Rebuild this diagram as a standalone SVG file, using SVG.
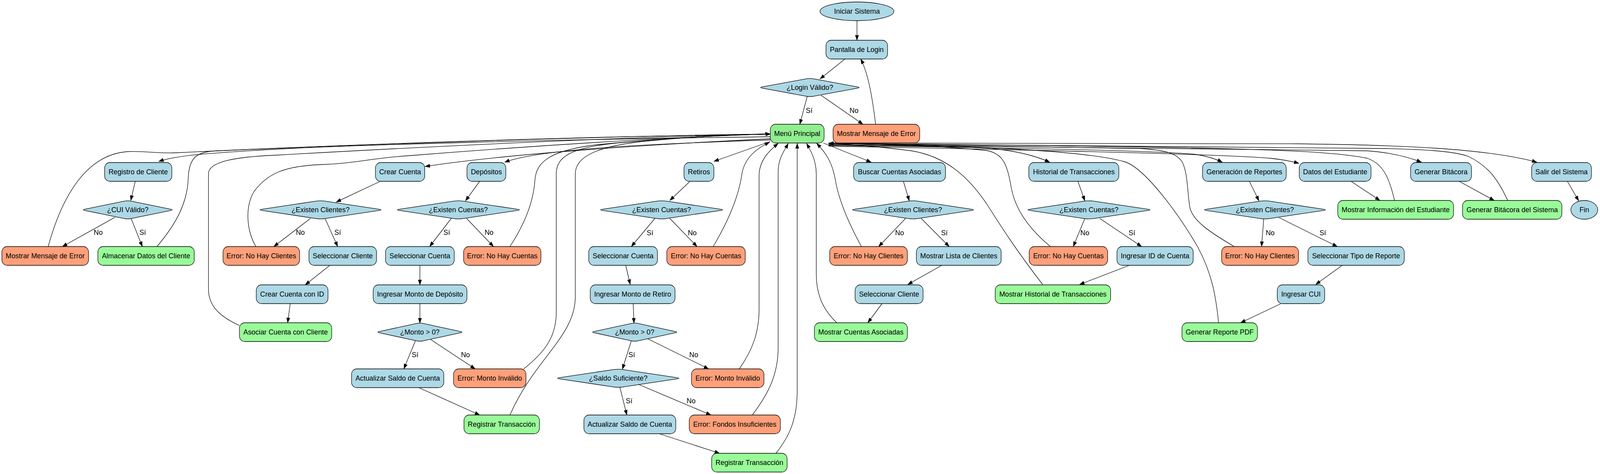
<svg xmlns="http://www.w3.org/2000/svg" width="4283" height="1213" viewBox="0 0 4283 1213">
<style>
.n rect,.n path,.n ellipse{stroke:#000;stroke-width:1.3}
.b{fill:#ADD8E6}.g{fill:#98FB98}.m{fill:#90EE90}.o{fill:#FFA07A}
text{font-family:"Liberation Sans",Arial,sans-serif;font-size:18.67px;text-anchor:middle;fill:#000}
#edges path{fill:none;stroke:#000;stroke-width:1.3;marker-end:url(#arr)}
</style>
<defs>
<marker id="arr" markerUnits="userSpaceOnUse" markerWidth="14" markerHeight="10" refX="13" refY="5" orient="auto"><path d="M0,0 L14,5 L0,10 z" fill="#000"/></marker>
</defs>
<rect width="4283" height="1213" fill="#fff"/>
<g id="diagram" transform="scale(0.95634,1)">
<g id="edges">
<path d="M2294,53 L2294,103"/>
<path d="M2262,151 L2195,202"/>
<path d="M2161,246 L2141,318"/>
<path d="M2198,244 L2310,318"/>
<path d="M2344,318 C2335,250 2325,190 2304,151"/>
<path d="M362,464 L350,513"/>
<path d="M308,556 L167,631"/>
<path d="M351,559 L381,631"/>
<path d="M129,631 C165,505 230,395 342,388 C385,386 420,393 470,391 C800,376 1500,350 2062,343"/>
<path d="M420,631 C470,575 502,520 504,455 C506,400 530,388 580,386 C900,372 1500,350 2062,343"/>
<path d="M641,833 C600,815 558,790 558,740 L558,445 C558,415 620,402 740,397 C1000,383 1600,352 2062,343"/>
<path d="M685,631 C660,590 655,530 680,490 C715,445 760,424 865,421 C950,418 1000,404 1100,398 C1400,375 1800,350 2062,343"/>
<path d="M1365,631 C1400,580 1428,520 1432,460 C1436,415 1470,385 1600,370 C1800,352 1950,345 2062,343"/>
<path d="M1402,944 C1460,900 1489,860 1489,800 L1489,445 C1489,400 1530,378 1650,366 C1850,350 1950,345 2062,343"/>
<path d="M1365,1062 C1430,920 1540,860 1540,760 L1540,445 C1540,400 1600,375 1720,362 C1870,348 1960,345 2062,343"/>
<path d="M2062,350 C1500,356 900,372 700,384 C580,391 480,396 425,413"/>
<path d="M2062,355 C1700,372 1350,395 1138,426"/>
<path d="M2062,358 C1750,368 1450,380 1351,415"/>
<path d="M2062,362 L1911,413"/>
<path d="M1018,464 L900,517"/>
<path d="M831,559 L733,631"/>
<path d="M870,559 L904,631"/>
<path d="M883,679 L817,729"/>
<path d="M777,776 L770,826"/>
<path d="M1284,464 L1246,514"/>
<path d="M1208,559 L1150,631"/>
<path d="M1249,559 L1321,631"/>
<path d="M1124,679 L1124,729"/>
<path d="M1124,776 L1124,827"/>
<path d="M1112,872 L1081,944"/>
<path d="M1153,869 L1272,944"/>
<path d="M1121,992 L1284,1062"/>
<path d="M1846,465 L1793,513"/>
<path d="M1753,559 L1690,631"/>
<path d="M1793,559 L1866,631"/>
<path d="M1675,679 L1687,728"/>
<path d="M1695,777 L1697,827"/>
<path d="M1690,872 L1666,945"/>
<path d="M1734,867 L1897,944"/>
<path d="M1659,990 L1678,1062"/>
<path d="M1700,980 L1903,1062"/>
<path d="M1765,1110 L1926,1160"/>
<path d="M1909,631 C1950,565 1978,500 1986,445 C1994,400 2030,378 2060,364"/>
<path d="M1979,944 C2015,895 2032,850 2032,790 L2032,450 C2032,410 2060,385 2083,367"/>
<path d="M2014,1062 C2055,1010 2083,960 2083,890 L2083,440 C2083,405 2100,385 2110,367"/>
<path d="M2077,1160 C2115,1115 2134,1070 2134,1000 L2134,367"/>
<path d="M2240,826 C2200,790 2185,750 2185,700 L2185,445 C2185,410 2170,385 2159,367"/>
<path d="M2306,631 C2268,565 2245,510 2236,460 C2228,415 2210,390 2186,367"/>
<path d="M2204,366 L2332,415"/>
<path d="M2418,463 L2434,514"/>
<path d="M2424,559 L2352,631"/>
<path d="M2466,559 L2541,631"/>
<path d="M2521,679 L2430,728"/>
<path d="M2361,777 L2323,826"/>
<path d="M2218,370 C2400,372 2600,375 2665,381 C2730,388 2775,400 2810,415"/>
<path d="M2885,463 L2904,514"/>
<path d="M2904,559 L2873,631"/>
<path d="M2944,559 L3056,631"/>
<path d="M3023,679 L2890,728"/>
<path d="M2812,631 C2760,590 2718,540 2707,480 C2696,420 2685,392 2640,385 C2500,372 2320,368 2218,367"/>
<path d="M2791,728 C2720,640 2680,580 2640,520 C2590,450 2530,400 2440,386 C2350,375 2270,369 2218,367"/>
<path d="M2218,372 C2700,378 3100,385 3200,395 C3232,400 3255,407 3272,415"/>
<path d="M3344,463 L3370,514"/>
<path d="M3383,559 L3377,631"/>
<path d="M3424,557 L3580,631"/>
<path d="M3593,679 L3522,728"/>
<path d="M3429,777 L3321,826"/>
<path d="M3304,631 C3240,595 3192,565 3185,530 C3178,490 3180,445 3165,415 C3150,392 3120,384 3050,380 C2700,372 2400,368 2218,367"/>
<path d="M3262,826 C3255,760 3245,700 3205,630 C3150,540 3060,425 3007,413 C2900,385 2600,372 2218,367"/>
<path d="M2218,374 C2900,386 3300,396 3400,405 C3430,408 3458,413 3477,418"/>
<path d="M3615,463 L3694,513"/>
<path d="M2218,370 C2900,378 3500,380 3660,386 C3720,390 3770,402 3805,415"/>
<path d="M3904,463 L4000,513"/>
<path d="M2218,366 C2800,368 3300,366 3473,368 C3750,371 3980,380 4114,415"/>
<path d="M4195,463 L4226,514"/>
<path d="M3733,513 C3720,460 3705,420 3660,405 C3550,383 3300,376 2218,367"/>
<path d="M4036,513 C4010,460 3985,425 3930,400 C3890,386 3800,382 3700,380 C3000,372 2500,368 2218,367"/>
</g>
<g id="edge-labels">
<text x="2166" y="289.5">Sí</text><text x="2286" y="289.5">No</text>
<text x="263" y="601.5">No</text><text x="382" y="601.5">Sí</text>
<text x="804" y="601.5">No</text><text x="904" y="601.5">Sí</text>
<text x="1196" y="601.5">Sí</text><text x="1309" y="601.5">No</text>
<text x="1740" y="602.5">Sí</text><text x="1853" y="602.5">No</text>
<text x="2408" y="602.5">No</text><text x="2528" y="602.5">Sí</text>
<text x="2904" y="602.5">No</text><text x="3030" y="602.5">Sí</text>
<text x="3400" y="602.5">No</text><text x="3541" y="602.5">Sí</text>
<text x="1111" y="914.5">Sí</text><text x="1246" y="914.5">No</text>
<text x="1691" y="914.5">Sí</text><text x="1857" y="914.5">No</text>
<text x="1684" y="1032.5">Sí</text><text x="1850" y="1032.5">No</text>
</g>
<g id="n_iniciar" class="n"><ellipse class="b" cx="2294" cy="29" rx="99" ry="24"/><text x="2294" y="35.5">Iniciar Sistema</text></g>
<g id="n_login" class="n"><rect class="b" x="2211" y="103" width="165" height="48" rx="14"/><text x="2293.5" y="133.5">Pantalla de Login</text></g>
<g id="n_loginvalido" class="n"><path class="b" d="M2040.8,222.3 l117.6,-20.64 q9.6,-1.68 19.2,0 l117.6,20.64 q9.6,1.68 0,3.36 l-117.6,20.64 q-9.6,1.68 -19.2,0 l-117.6,-20.64 q-9.6,-1.68 0,-3.36z"/><text x="2168" y="230.5">¿Login Válido?</text></g>
<g id="n_menu" class="n"><rect class="m" x="2062" y="318" width="144" height="48" rx="14"/><text x="2134" y="348.5">Menú Principal</text></g>
<g id="n_errlogin" class="n"><rect class="o" x="2230" y="318" width="232" height="48" rx="14"/><text x="2346" y="348.5">Mostrar Mensaje de Error</text></g>
<g id="n_registro" class="n"><rect class="b" x="280" y="416" width="180" height="48" rx="14"/><text x="370" y="446.5">Registro de Cliente</text></g>
<g id="n_crear" class="n"><rect class="b" x="1005" y="416" width="132" height="48" rx="14"/><text x="1071" y="446.5">Crear Cuenta</text></g>
<g id="n_depositos" class="n"><rect class="b" x="1250" y="416" width="104" height="48" rx="14"/><text x="1302" y="446.5">Depósitos</text></g>
<g id="n_retiros" class="n"><rect class="b" x="1831" y="416" width="80" height="48" rx="14"/><text x="1871" y="446.5">Retiros</text></g>
<g id="n_buscar" class="n"><rect class="b" x="2285" y="416" width="246" height="48" rx="14"/><text x="2408" y="446.5">Buscar Cuentas Asociadas</text></g>
<g id="n_historial" class="n"><rect class="b" x="2754" y="416" width="241" height="48" rx="14"/><text x="2874.5" y="446.5">Historial de Transacciones</text></g>
<g id="n_generacion" class="n"><rect class="b" x="3219" y="416" width="224" height="48" rx="14"/><text x="3331" y="446.5">Generación de Reportes</text></g>
<g id="n_datos" class="n"><rect class="b" x="3478" y="416" width="192" height="48" rx="14"/><text x="3574" y="446.5">Datos del Estudiante</text></g>
<g id="n_bitacora" class="n"><rect class="b" x="3776" y="416" width="163" height="48" rx="14"/><text x="3857.5" y="446.5">Generar Bitácora</text></g>
<g id="n_salir" class="n"><rect class="b" x="4100" y="416" width="160" height="48" rx="14"/><text x="4180" y="446.5">Salir del Sistema</text></g>
<g id="n_cui" class="n"><path class="b" d="M227.3,535.3 l106,-20.64 q8.6,-1.68 17.3,0 l106,20.64 q8.6,1.68 0,3.36 l-106,20.64 q-8.6,1.68 -17.3,0 l-106,-20.64 q-8.6,-1.68 0,-3.36z"/><text x="342" y="543.5">¿CUI Válido?</text></g>
<g id="n_excli1" class="n"><path class="b" d="M701.9,535.3 l144.4,-20.64 q11.8,-1.68 23.5,0 l144.4,20.64 q11.8,1.68 0,3.36 l-144.4,20.64 q-11.8,1.68 -23.5,0 l-144.4,-20.64 q-11.8,-1.68 0,-3.36z"/><text x="858" y="543.5">¿Existen Clientes?</text></g>
<g id="n_excue1" class="n"><path class="b" d="M1069.5,535.3 l145.7,-20.64 q11.9,-1.68 23.7,0 l145.7,20.64 q11.9,1.68 0,3.36 l-145.7,20.64 q-11.9,1.68 -23.7,0 l-145.7,-20.64 q-11.9,-1.68 0,-3.36z"/><text x="1227" y="543.5">¿Existen Cuentas?</text></g>
<g id="n_excue2" class="n"><path class="b" d="M1613.5,535.3 l145.7,-20.64 q11.9,-1.68 23.7,0 l145.7,20.64 q11.9,1.68 0,3.36 l-145.7,20.64 q-11.9,1.68 -23.7,0 l-145.7,-20.64 q-11.9,-1.68 0,-3.36z"/><text x="1771" y="543.5">¿Existen Cuentas?</text></g>
<g id="n_excli2" class="n"><path class="b" d="M2287.9,535.3 l144.4,-20.64 q11.8,-1.68 23.5,0 l144.4,20.64 q11.8,1.68 0,3.36 l-144.4,20.64 q-11.8,1.68 -23.5,0 l-144.4,-20.64 q-11.8,-1.68 0,-3.36z"/><text x="2444" y="543.5">¿Existen Clientes?</text></g>
<g id="n_excue3" class="n"><path class="b" d="M2757.5,535.3 l145.7,-20.64 q11.9,-1.68 23.7,0 l145.7,20.64 q11.9,1.68 0,3.36 l-145.7,20.64 q-11.9,1.68 -23.7,0 l-145.7,-20.64 q-11.9,-1.68 0,-3.36z"/><text x="2915" y="543.5">¿Existen Cuentas?</text></g>
<g id="n_excli3" class="n"><path class="b" d="M3229.9,535.3 l144.4,-20.64 q11.8,-1.68 23.5,0 l144.4,20.64 q11.8,1.68 0,3.36 l-144.4,20.64 q-11.8,1.68 -23.5,0 l-144.4,-20.64 q-11.8,-1.68 0,-3.36z"/><text x="3386" y="543.5">¿Existen Clientes?</text></g>
<g id="n_infoest" class="n"><rect class="g" x="3581" y="513" width="310" height="48" rx="14"/><text x="3736" y="543.5">Mostrar Información del Estudiante</text></g>
<g id="n_bitsis" class="n"><rect class="g" x="3915" y="513" width="266" height="48" rx="14"/><text x="4048" y="543.5">Generar Bitácora del Sistema</text></g>
<g id="n_fin" class="n"><ellipse class="b" cx="4241" cy="537" rx="36" ry="24"/><text x="4241" y="543.5">Fin</text></g>
<g id="n_errcui" class="n"><rect class="o" x="5" y="631" width="232" height="48" rx="14"/><text x="121" y="661.5">Mostrar Mensaje de Error</text></g>
<g id="n_almacenar" class="n"><rect class="g" x="262" y="631" width="258" height="48" rx="14"/><text x="391" y="661.5">Almacenar Datos del Cliente</text></g>
<g id="n_errcli1" class="n"><rect class="o" x="597" y="631" width="205" height="48" rx="14"/><text x="699.5" y="661.5">Error: No Hay Clientes</text></g>
<g id="n_selcli1" class="n"><rect class="b" x="827" y="631" width="181" height="48" rx="14"/><text x="917.5" y="661.5">Seleccionar Cliente</text></g>
<g id="n_selcue1" class="n"><rect class="b" x="1032" y="631" width="184" height="48" rx="14"/><text x="1124" y="661.5">Seleccionar Cuenta</text></g>
<g id="n_errcue1" class="n"><rect class="o" x="1241" y="631" width="207" height="48" rx="14"/><text x="1344.5" y="661.5">Error: No Hay Cuentas</text></g>
<g id="n_selcue2" class="n"><rect class="b" x="1576" y="631" width="184" height="48" rx="14"/><text x="1668" y="661.5">Seleccionar Cuenta</text></g>
<g id="n_errcue2" class="n"><rect class="o" x="1785" y="631" width="210" height="48" rx="14"/><text x="1890" y="661.5">Error: No Hay Cuentas</text></g>
<g id="n_errcli2" class="n"><rect class="o" x="2221" y="631" width="208" height="48" rx="14"/><text x="2325" y="661.5">Error: No Hay Clientes</text></g>
<g id="n_lista" class="n"><rect class="b" x="2453" y="631" width="227" height="48" rx="14"/><text x="2566.5" y="661.5">Mostrar Lista de Clientes</text></g>
<g id="n_errcue3" class="n"><rect class="o" x="2755" y="631" width="210" height="48" rx="14"/><text x="2860" y="661.5">Error: No Hay Cuentas</text></g>
<g id="n_ingid" class="n"><rect class="b" x="2990" y="631" width="204" height="48" rx="14"/><text x="3092" y="661.5">Ingresar ID de Cuenta</text></g>
<g id="n_errcli3" class="n"><rect class="o" x="3270" y="631" width="206" height="48" rx="14"/><text x="3373" y="661.5">Error: No Hay Clientes</text></g>
<g id="n_tipo" class="n"><rect class="b" x="3501" y="631" width="258" height="48" rx="14"/><text x="3630" y="661.5">Seleccionar Tipo de Reporte</text></g>
<g id="n_crearid" class="n"><rect class="b" x="686" y="729" width="192" height="48" rx="14"/><text x="782" y="759.5">Crear Cuenta con ID</text></g>
<g id="n_montodep" class="n"><rect class="b" x="999" y="729" width="251" height="48" rx="14"/><text x="1124.5" y="759.5">Ingresar Monto de Depósito</text></g>
<g id="n_montoret" class="n"><rect class="b" x="1580" y="729" width="227" height="48" rx="14"/><text x="1693.5" y="759.5">Ingresar Monto de Retiro</text></g>
<g id="n_selcli2" class="n"><rect class="b" x="2289" y="729" width="182" height="48" rx="14"/><text x="2380" y="759.5">Seleccionar Cliente</text></g>
<g id="n_histtrans" class="n"><rect class="g" x="2664" y="729" width="309" height="48" rx="14"/><text x="2818.5" y="759.5">Mostrar Historial de Transacciones</text></g>
<g id="n_ingcui" class="n"><rect class="b" x="3419" y="729" width="127" height="48" rx="14"/><text x="3482.5" y="759.5">Ingresar CUI</text></g>
<g id="n_asociar" class="n"><rect class="g" x="641" y="826" width="247" height="48" rx="14"/><text x="764.5" y="856.5">Asociar Cuenta con Cliente</text></g>
<g id="n_monto1" class="n"><path class="b" d="M1015.6,848.3 l100.3,-20.64 q8.2,-1.68 16.3,0 l100.3,20.64 q8.2,1.68 0,3.36 l-100.3,20.64 q-8.2,1.68 -16.3,0 l-100.3,-20.64 q-8.2,-1.68 0,-3.36z"/><text x="1124" y="856.5">¿Monto &gt; 0?</text></g>
<g id="n_monto2" class="n"><path class="b" d="M1590.6,848.3 l100.3,-20.64 q8.2,-1.68 16.3,0 l100.3,20.64 q8.2,1.68 0,3.36 l-100.3,20.64 q-8.2,1.68 -16.3,0 l-100.3,-20.64 q-8.2,-1.68 0,-3.36z"/><text x="1699" y="856.5">¿Monto &gt; 0?</text></g>
<g id="n_cuentasasoc" class="n"><rect class="g" x="2180" y="826" width="249" height="48" rx="14"/><text x="2304.5" y="856.5">Mostrar Cuentas Asociadas</text></g>
<g id="n_pdf" class="n"><rect class="g" x="3164" y="826" width="202" height="48" rx="14"/><text x="3265" y="856.5">Generar Reporte PDF</text></g>
<g id="n_act1" class="n"><rect class="b" x="941" y="944" width="247" height="48" rx="14"/><text x="1064.5" y="974.5">Actualizar Saldo de Cuenta</text></g>
<g id="n_errmonto1" class="n"><rect class="o" x="1214" y="944" width="194" height="48" rx="14"/><text x="1311" y="974.5">Error: Monto Inválido</text></g>
<g id="n_saldo" class="n"><path class="b" d="M1498.4,966.3 l144.8,-20.64 q11.8,-1.68 23.6,0 l144.8,20.64 q11.8,1.68 0,3.36 l-144.8,20.64 q-11.8,1.68 -23.6,0 l-144.8,-20.64 q-11.8,-1.68 0,-3.36z"/><text x="1655" y="974.5">¿Saldo Suficiente?</text></g>
<g id="n_errmonto2" class="n"><rect class="o" x="1851" y="944" width="194" height="48" rx="14"/><text x="1948" y="974.5">Error: Monto Inválido</text></g>
<g id="n_reg1" class="n"><rect class="g" x="1242" y="1062" width="202" height="48" rx="14"/><text x="1343" y="1092.5">Registrar Transacción</text></g>
<g id="n_act2" class="n"><rect class="b" x="1563" y="1062" width="246" height="48" rx="14"/><text x="1686" y="1092.5">Actualizar Saldo de Cuenta</text></g>
<g id="n_fondos" class="n"><rect class="o" x="1845" y="1062" width="244" height="48" rx="14"/><text x="1967" y="1092.5">Error: Fondos Insuficientes</text></g>
<g id="n_reg2" class="n"><rect class="g" x="1905" y="1160" width="202" height="48" rx="14"/><text x="2006" y="1190.5">Registrar Transacción</text></g>
</g>
</svg>
